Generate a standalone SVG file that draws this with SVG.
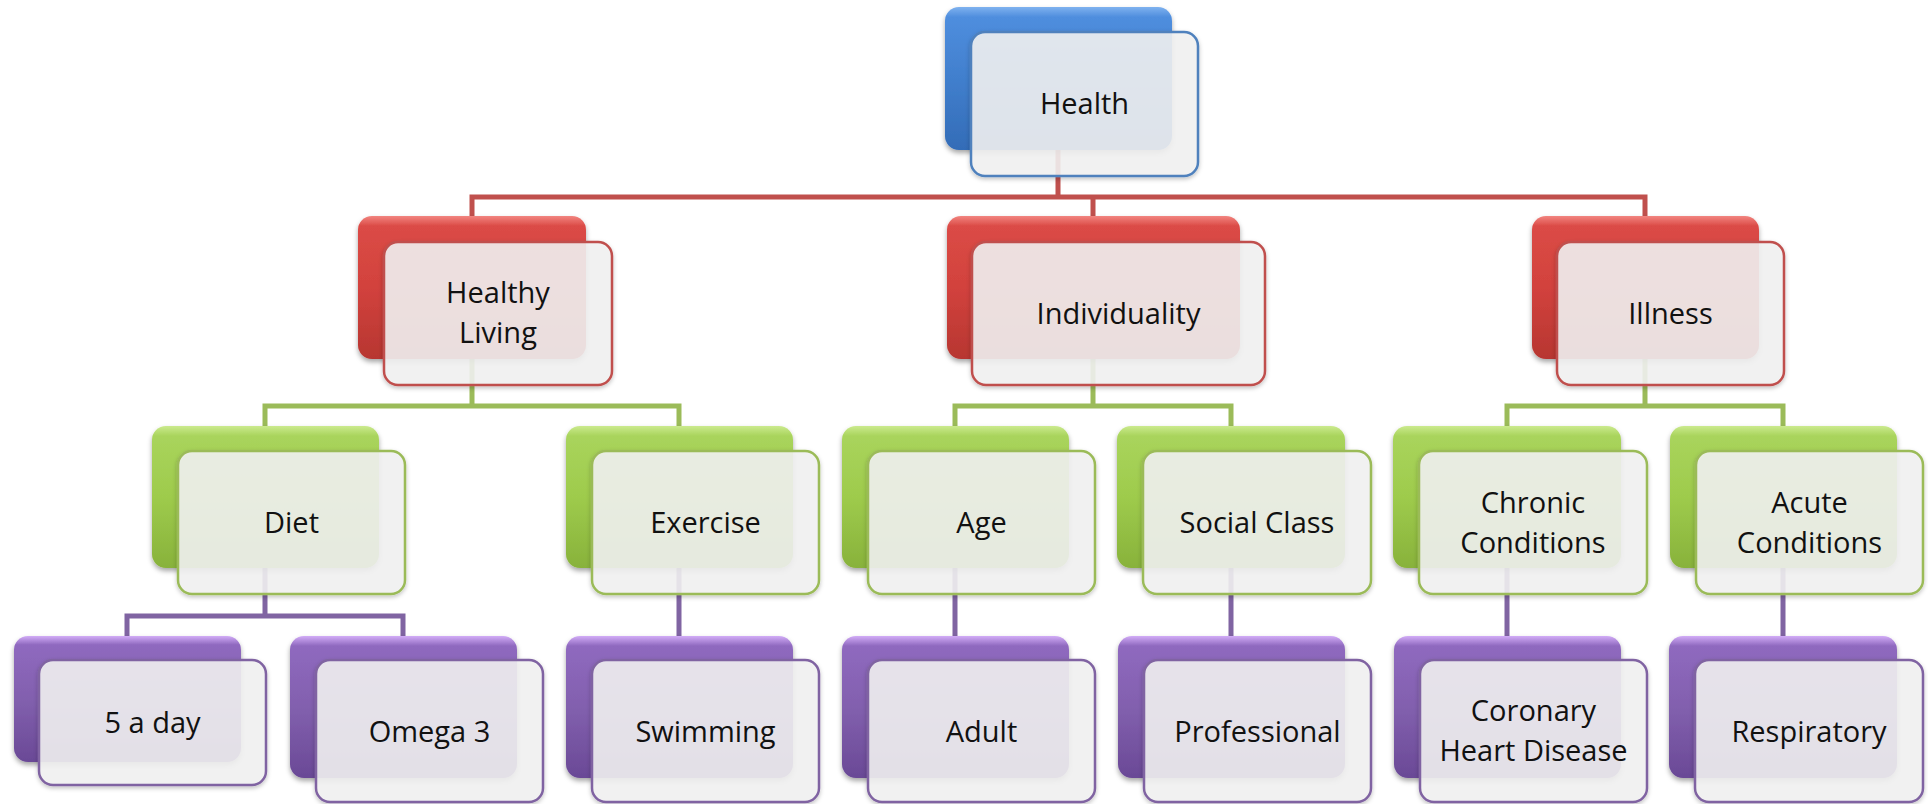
<svg xmlns="http://www.w3.org/2000/svg" width="1928" height="804" viewBox="0 0 1928 804">
<defs>
<linearGradient id="gBlue" x1="0" y1="0" x2="0" y2="1"><stop offset="0" stop-color="#7fb2ef"/><stop offset="0.07" stop-color="#4f8ede"/><stop offset="0.5" stop-color="#417fcd"/><stop offset="1" stop-color="#336cb7"/></linearGradient>
<linearGradient id="gRed" x1="0" y1="0" x2="0" y2="1"><stop offset="0" stop-color="#f28580"/><stop offset="0.07" stop-color="#db4b46"/><stop offset="0.5" stop-color="#d2423d"/><stop offset="1" stop-color="#b73631"/></linearGradient>
<linearGradient id="gGreen" x1="0" y1="0" x2="0" y2="1"><stop offset="0" stop-color="#cbea8e"/><stop offset="0.07" stop-color="#a9d45c"/><stop offset="0.5" stop-color="#9ecb4c"/><stop offset="1" stop-color="#88b23b"/></linearGradient>
<linearGradient id="gPurple" x1="0" y1="0" x2="0" y2="1"><stop offset="0" stop-color="#d2acf7"/><stop offset="0.07" stop-color="#8f69bf"/><stop offset="0.5" stop-color="#8260ae"/><stop offset="1" stop-color="#6a4996"/></linearGradient>
<filter id="sh" x="-10%" y="-10%" width="125%" height="135%"><feDropShadow dx="0" dy="3" stdDeviation="2.5" flood-color="#000" flood-opacity="0.35"/></filter>
<filter id="sh2" x="-10%" y="-10%" width="125%" height="135%"><feDropShadow dx="0" dy="2" stdDeviation="2" flood-color="#000" flood-opacity="0.25"/></filter>
<style>
.t{font-family:"Open Sans","Liberation Sans",sans-serif;font-size:29px;fill:#111;text-anchor:middle}
.back{filter:url(#sh)}
.b0{fill:url(#gBlue)}.b1{fill:url(#gRed)}.b2{fill:url(#gGreen)}.b3{fill:url(#gPurple)}
.front{fill:#f3f3f3;fill-opacity:0.88;stroke-width:2.5;filter:url(#sh2)}
.f0{stroke:#4f81bd}.f1{stroke:#c0504d}.f2{stroke:#9bbb59}.f3{stroke:#8064a2}
.c{fill:none;stroke-width:5;stroke-linejoin:miter}
.c1{stroke:#c0504d}.c2{stroke:#9bbb59}.c3{stroke:#8064a2}
</style>
</defs>
<rect width="1928" height="804" fill="#ffffff"/>
<g id="connectors">
<path class="c c1" d="M1058 150 V197 M472 216 V197 H1645 V216 M1093 197 V216"/>
<path class="c c2" d="M472 359 V406 M265 426 V406 H679 V426"/>
<path class="c c2" d="M1093 359 V406 M955 426 V406 H1231 V426"/>
<path class="c c2" d="M1645 359 V406 M1507 426 V406 H1783 V426"/>
<path class="c c3" d="M265 568 V616 M127 636 V616 H403 V636"/>
<path class="c c3" d="M679 568 V636 M955 568 V636 M1231 568 V636 M1507 568 V636 M1783 568 V636"/>
</g>
<g id="n-health"><rect class="back b0" x="945" y="7" width="227" height="143" rx="14"/><rect class="front f0" x="971" y="32" width="227" height="144" rx="14"/><text class="t" x="1084.5" y="114">Health</text></g>
<g id="n-healthy-living"><rect class="back b1" x="358" y="216" width="228" height="143" rx="14"/><rect class="front f1" x="384" y="242" width="228" height="143" rx="14"/><text class="t" x="498" y="303">Healthy</text><text class="t" x="498" y="343">Living</text></g>
<g id="n-individuality"><rect class="back b1" x="947" y="216" width="293" height="143" rx="14"/><rect class="front f1" x="972" y="242" width="293" height="143" rx="14"/><text class="t" x="1118.5" y="324">Individuality</text></g>
<g id="n-illness"><rect class="back b1" x="1532" y="216" width="227" height="143" rx="14"/><rect class="front f1" x="1557" y="242" width="227" height="143" rx="14"/><text class="t" x="1670.5" y="324">Illness</text></g>
<g id="n-diet"><rect class="back b2" x="152" y="426" width="227" height="142" rx="14"/><rect class="front f2" x="178" y="451" width="227" height="143" rx="14"/><text class="t" x="291.5" y="533">Diet</text></g>
<g id="n-exercise"><rect class="back b2" x="566" y="426" width="227" height="142" rx="14"/><rect class="front f2" x="592" y="451" width="227" height="143" rx="14"/><text class="t" x="705.5" y="533">Exercise</text></g>
<g id="n-age"><rect class="back b2" x="842" y="426" width="227" height="142" rx="14"/><rect class="front f2" x="868" y="451" width="227" height="143" rx="14"/><text class="t" x="981.5" y="533">Age</text></g>
<g id="n-social-class"><rect class="back b2" x="1117" y="426" width="228" height="142" rx="14"/><rect class="front f2" x="1143" y="451" width="228" height="143" rx="14"/><text class="t" x="1257" y="533">Social Class</text></g>
<g id="n-chronic"><rect class="back b2" x="1393" y="426" width="228" height="142" rx="14"/><rect class="front f2" x="1419" y="451" width="228" height="143" rx="14"/><text class="t" x="1533" y="513">Chronic</text><text class="t" x="1533" y="553">Conditions</text></g>
<g id="n-acute"><rect class="back b2" x="1670" y="426" width="227" height="142" rx="14"/><rect class="front f2" x="1696" y="451" width="227" height="143" rx="14"/><text class="t" x="1809.5" y="513">Acute</text><text class="t" x="1809.5" y="553">Conditions</text></g>
<g id="n-5-a-day"><rect class="back b3" x="14" y="636" width="227" height="126" rx="14"/><rect class="front f3" x="39" y="660" width="227" height="125" rx="14"/><text class="t" x="152.5" y="733">5 a day</text></g>
<g id="n-omega-3"><rect class="back b3" x="290" y="636" width="227" height="142" rx="14"/><rect class="front f3" x="316" y="660" width="227" height="142" rx="14"/><text class="t" x="429.5" y="742">Omega 3</text></g>
<g id="n-swimming"><rect class="back b3" x="566" y="636" width="227" height="142" rx="14"/><rect class="front f3" x="592" y="660" width="227" height="142" rx="14"/><text class="t" x="705.5" y="742">Swimming</text></g>
<g id="n-adult"><rect class="back b3" x="842" y="636" width="227" height="142" rx="14"/><rect class="front f3" x="868" y="660" width="227" height="142" rx="14"/><text class="t" x="981.5" y="742">Adult</text></g>
<g id="n-professional"><rect class="back b3" x="1118" y="636" width="227" height="142" rx="14"/><rect class="front f3" x="1144" y="660" width="227" height="142" rx="14"/><text class="t" x="1257.5" y="742">Professional</text></g>
<g id="n-coronary"><rect class="back b3" x="1394" y="636" width="227" height="142" rx="14"/><rect class="front f3" x="1420" y="660" width="227" height="142" rx="14"/><text class="t" x="1533.5" y="721">Coronary</text><text class="t" x="1533.5" y="761">Heart Disease</text></g>
<g id="n-respiratory"><rect class="back b3" x="1669" y="636" width="228" height="142" rx="14"/><rect class="front f3" x="1695" y="660" width="228" height="142" rx="14"/><text class="t" x="1809" y="742">Respiratory</text></g>
</svg>
